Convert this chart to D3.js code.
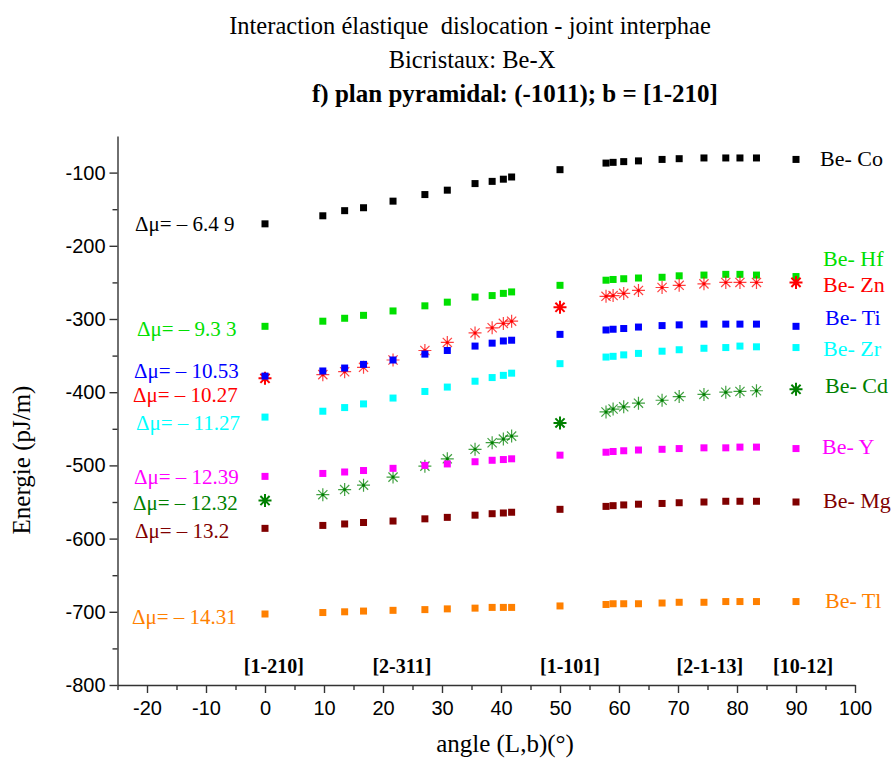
<!DOCTYPE html>
<html>
<head>
<meta charset="utf-8">
<script src="https://cdn.jsdelivr.net/npm/d3@7"></script>
<style>
  body { margin: 0; background: #fff; }
  svg { display: block; }
</style>
</head>
<body>
<div id="chart"></div>
<script>
// angle (L,b) in degrees, shared by all series
const angles = [0, 9.8, 13.5, 16.7, 21.7, 27.1, 30.9, 35.6, 38.5, 40.4, 41.8, 50,
                57.8, 59.0, 60.8, 63.3, 67.3, 70.2, 74.4, 78.1, 80.5, 83.3, 90];

const be_co = [-170, -159, -152, -148, -139, -130, -124, -115, -112, -109, -106, -96,
               -87, -86, -85, -84, -82, -81, -80, -80, -80, -80, -82];
const be_hf = [-310, -303, -299, -295, -289, -282, -277, -270, -268, -265, -263, -254,
               -247, -246, -245, -244, -243, -241, -240, -239, -239, -240, -242];
const be_zn = [-381, -376, -372, -366, -356, -343, -332, -319, -312, -306, -303, -284,
               -269, -268, -265, -261, -257, -254, -252, -250, -250, -250, -250];
const be_ti = [-378, -371, -367, -362, -356, -348, -343, -337, -333, -330, -329, -321,
               -315, -314, -313, -311, -309, -308, -307, -307, -307, -307, -310];
const be_zr = [-434, -426, -421, -416, -408, -399, -393, -385, -380, -377, -374, -361,
               -352, -351, -349, -347, -344, -342, -340, -339, -337, -338, -339];
const be_cd = [-548, -540, -533, -527, -516, -501, -491, -478, -469, -464, -460, -442,
               -427, -423, -420, -415, -411, -406, -403, -400, -399, -398, -396];
const be_y  = [-515, -511, -509, -507, -504, -500, -498, -495, -493, -492, -491, -486,
               -482, -481, -480, -479, -478, -477, -476, -476, -475, -475, -477];
const be_mg = [-586, -582, -580, -578, -576, -573, -571, -568, -566, -565, -564, -560,
               -556, -555, -554, -553, -552, -551, -550, -549, -549, -549, -550];
const be_tl = [-703, -701, -700, -699, -698, -697, -696, -695, -694, -694, -694, -692,
               -690, -689, -689, -689, -688, -687, -687, -686, -686, -686, -686];

const series_names = ["Be- Co", "Be- Hf", "Be- Zn", "Be- Ti", "Be- Zr", "Be- Cd", "Be- Y", "Be- Mg", "Be- Tl"];
const delta_mu = ["Δμ= – 6.4 9", "Δμ= – 9.3 3", "Δμ= – 10.27", "Δμ= – 10.53", "Δμ= – 11.27",
                  "Δμ= – 12.32", "Δμ= – 12.39", "Δμ= – 13.2", "Δμ= – 14.31"];
const x_ticks = [-20, -10, 0, 10, 20, 30, 40, 50, 60, 70, 80, 90, 100];
const y_ticks = [-100, -200, -300, -400, -500, -600, -700, -800];
const directions = ["[1-210]", "[2-311]", "[1-101]", "[2-1-13]", "[10-12]"];

const all_values = [be_co, be_hf, be_zn, be_ti, be_zr, be_cd, be_y, be_mg, be_tl];
const colors = ["#000000", "#00e000", "#ff0000", "#0000ff", "#00ffff", "#008000", "#ff00ff", "#800000", "#ff8000"];
const shapes = ["square", "square", "star", "square", "square", "star", "square", "square", "square"];

const W = 896, H = 760;
const svg = d3.select("#chart").append("svg").attr("width", W).attr("height", H);

const x = d3.scaleLinear().domain([-25, 100]).range([117.5, 855]);
const y = d3.scaleLinear().domain([-800, -50]).range([685, 136]);

const serif = "'Liberation Serif', 'Times New Roman', serif";
const sans = "'Liberation Sans', Arial, sans-serif";

// titles
const titles = svg.append("g").style("font-family", serif).attr("text-anchor", "middle");
titles.append("text").attr("x", 470).attr("y", 34).style("font-size", "24.5px")
  .text("Interaction élastique \u00a0dislocation - joint interphae");
titles.append("text").attr("x", 472).attr("y", 68).style("font-size", "24.5px")
  .text("Bicristaux: Be-X");
titles.append("text").attr("x", 515).attr("y", 102).style("font-size", "25px").style("font-weight", "bold")
  .text("f) plan pyramidal: (-1011); b = [1-210]");

// axes
const fmt = d => String(d);
const xAxis = svg.append("g").attr("transform", `translate(0,${y(-800)})`)
  .call(d3.axisBottom(x).tickValues(x_ticks).tickFormat(fmt).tickSize(8).tickPadding(6).tickSizeOuter(0));
svg.append("g").attr("transform", `translate(0,${y(-800)})`)
  .call(d3.axisBottom(x).tickValues(d3.range(-25, 101, 5).filter(v => v % 10 !== 0)).tickSize(5).tickFormat("").tickSizeOuter(0))
  .select(".domain").remove();
const yAxis = svg.append("g").attr("transform", `translate(${x(-25)},0)`)
  .call(d3.axisLeft(y).tickValues(y_ticks).tickFormat(fmt).tickSize(8).tickPadding(4).tickSizeOuter(0));
svg.append("g").attr("transform", `translate(${x(-25)},0)`)
  .call(d3.axisLeft(y).tickValues(d3.range(-750, -50, 100)).tickSize(5).tickFormat("").tickSizeOuter(0))
  .select(".domain").remove();

svg.selectAll(".domain, .tick line").attr("stroke", "#333").attr("stroke-width", 1.4);
svg.selectAll(".tick text").style("font-family", sans).style("font-size", "20px").attr("fill", "#000");
xAxis.selectAll(".tick text").attr("dy", "0.8em");

svg.append("text")
  .attr("x", 505).attr("y", 752)
  .attr("text-anchor", "middle")
  .style("font-family", serif).style("font-size", "25px")
  .text("angle (L,b)(°)");
svg.append("text")
  .attr("transform", `translate(30,460) rotate(-90)`)
  .attr("text-anchor", "middle")
  .style("font-family", serif).style("font-size", "25px")
  .text("Energie (pJ/m)");

// crystal direction labels above the x axis
const dir_pos = [1.5, 23.2, 51.7, 75.4, 91.2];
svg.append("g").selectAll("text").data(directions).join("text")
  .attr("x", (d, i) => x(dir_pos[i]))
  .attr("y", 673)
  .attr("text-anchor", "middle")
  .style("font-family", serif).style("font-size", "20px").style("font-weight", "bold")
  .text(d => d);

// points
const star = d3.symbol().type({
  draw(ctx, size) {
    const r = Math.sqrt(size) / 2;
    const d = r * Math.SQRT1_2;
    ctx.moveTo(-r, 0); ctx.lineTo(r, 0);
    ctx.moveTo(0, -r); ctx.lineTo(0, r);
    ctx.moveTo(-d, -d); ctx.lineTo(d, d);
    ctx.moveTo(-d, d); ctx.lineTo(d, -d);
  }
}).size(169);

all_values.forEach((vals, s) => {
  const pts = vals.map((v, i) => ({a: angles[i], v}));
  const g = svg.append("g");
  if (shapes[s] === "square") {
    g.selectAll("rect").data(pts).join("rect")
      .attr("x", d => x(d.a) - 3.5)
      .attr("y", d => y(d.v) - 3.5)
      .attr("width", 7).attr("height", 7)
      .attr("fill", colors[s]);
  } else {
    g.selectAll("path").data(pts).join("path")
      .attr("transform", d => `translate(${x(d.a)},${y(d.v)})`)
      .attr("d", star)
      .attr("fill", "none")
      .attr("stroke", colors[s])
      .attr("stroke-width", d => (d.a === 0 || d.a === 50 || d.a === 90) ? 2 : 1.2)
      .attr("stroke-opacity", d => (d.a === 0 || d.a === 50 || d.a === 90) ? 1 : 0.75);
    g.selectAll("circle").data(pts).join("circle")
      .attr("cx", d => x(d.a)).attr("cy", d => y(d.v)).attr("r", 1.5)
      .attr("fill", colors[s]);
  }
});

// delta mu labels (left) and series names (right)
const left_x = [135, 137, 133, 134, 136, 133, 134, 135, 132];
const left_y = [-170, -313, -403, -370, -442, -551, -515, -589, -706];
svg.append("g").selectAll("text").data(delta_mu).join("text")
  .attr("x", (d, i) => left_x[i])
  .attr("y", (d, i) => y(left_y[i]))
  .attr("dy", "0.35em")
  .attr("fill", (d, i) => colors[i])
  .style("font-family", serif).style("font-size", "21px")
  .text(d => d);

const right_y = [-80, -217, -253, -297, -340, -390, -474, -547, -684];
const right_x = [820, 823, 823, 825, 823, 825, 822, 823, 825];
svg.append("g").selectAll("text").data(series_names).join("text")
  .attr("x", (d, i) => right_x[i])
  .attr("y", (d, i) => y(right_y[i]))
  .attr("dy", "0.35em")
  .attr("fill", (d, i) => colors[i])
  .style("font-family", serif).style("font-size", "22px")
  .text(d => d);
</script>
</body>
</html>
